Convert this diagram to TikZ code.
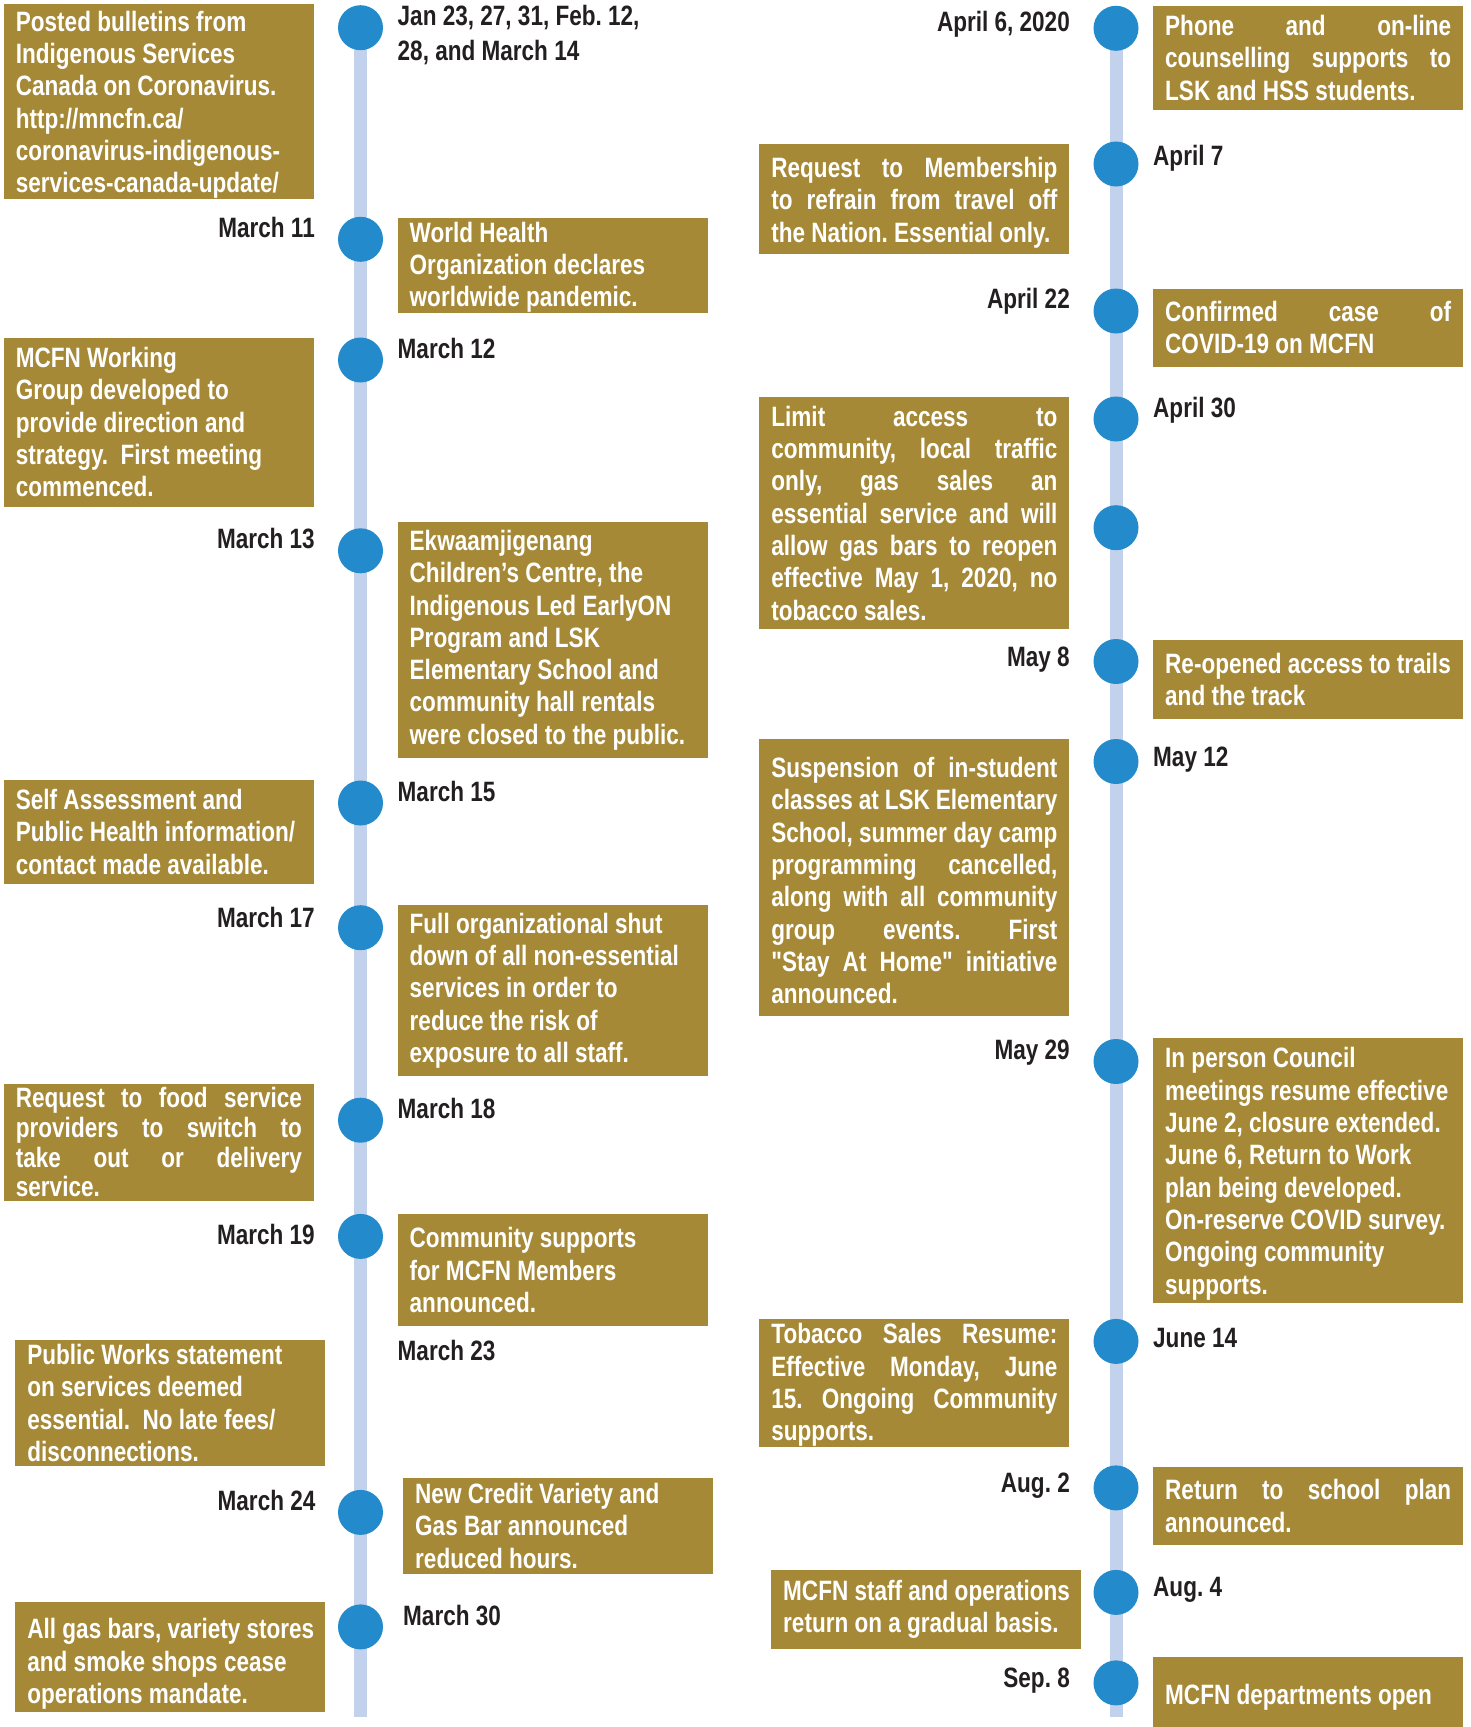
\documentclass[tikz,border=0pt]{standalone}
\usepackage{fontspec}
\newfontfamily\cond{Liberation Sans}[FakeStretch=0.805]
\definecolor{gold}{HTML}{A68937}
\definecolor{dotblue}{HTML}{238BCB}
\definecolor{lineblue}{HTML}{C2D2EC}
\definecolor{ink}{HTML}{231F20}
\newlength\twid \setlength\twid{286pt}
\newcommand\jline[1]{\makebox[\twid][s]{\spaceskip=0pt\xspaceskip=0pt\relax #1}}
\newcommand\ml[1]{\mbox{\spaceskip=0pt\xspaceskip=0pt\relax #1}}
\newcommand\topstrut[1]{\rule{0pt}{#1}}
\tikzset{
  evbox/.style={fill=gold, text=white, anchor=north west, inner xsep=12pt, inner ysep=0pt,
    text width=\twid, align=left, minimum width=310pt,
    font=\cond\bfseries\fontsize{28}{32.3}\selectfont},
  datelbl/.style={text=ink, inner sep=0pt, font=\cond\bfseries\fontsize{28}{35}\selectfont},
  dot/.style={circle, fill=dotblue, minimum size=45pt, inner sep=0pt},
  tline/.style={line width=13pt, lineblue},
}
\begin{document}
\frenchspacing
\begin{tikzpicture}[x=1pt,y=-1pt]
\useasboundingbox (0,0) rectangle (1471,1727);
% timelines
\coordinate (ltop) at (360.5,27.7);
\coordinate (lbot) at (360.5,1717);
\coordinate (rtop) at (1116,28.3);
\coordinate (rbot) at (1116,1717);
\draw[tline] (ltop) -- (lbot);
\draw[tline] (rtop) -- (rbot);
% left circles
\node[dot] (l1) at (360.5,27.7) {};
\node[dot] (l2) at (360.5,239.3) {};
\node[dot] (l3) at (360.5,360) {};
\node[dot] (l4) at (360.5,550.8) {};
\node[dot] (l5) at (360.5,803) {};
\node[dot] (l6) at (360.5,927.7) {};
\node[dot] (l7) at (360.5,1120.2) {};
\node[dot] (l8) at (360.5,1236.4) {};
\node[dot] (l9) at (360.5,1512.4) {};
\node[dot] (l10) at (360.5,1626.9) {};
% right circles
\node[dot] (r1) at (1116,28.3) {};
\node[dot] (r2) at (1116,164) {};
\node[dot] (r3) at (1116,311) {};
\node[dot] (r4) at (1116,419) {};
\node[dot] (r5) at (1116,527.7) {};
\node[dot] (r6) at (1116,661.5) {};
\node[dot] (r7) at (1116,761.5) {};
\node[dot] (r8) at (1116,1061.5) {};
\node[dot] (r9) at (1116,1341.4) {};
\node[dot] (r10) at (1116,1487.9) {};
\node[dot] (r11) at (1116,1592.4) {};
\node[dot] (r12) at (1116,1682.9) {};
% left dates
\node[datelbl, anchor=north west, align=left] (d1) at (397.5,5) {\ml{Jan 23, 27, 31, Feb. 12,}\\\ml{28, and March 14}};
\node[datelbl, anchor=base east] (d2) at (315,237.7) {March 11};
\node[datelbl, anchor=base west] (d3) at (397.5,358.3) {March 12};
\node[datelbl, anchor=base east] (d4) at (315,548.8) {March 13};
\node[datelbl, anchor=base west] (d5) at (397.5,801) {March 15};
\node[datelbl, anchor=base east] (d6) at (315,927) {March 17};
\node[datelbl, anchor=base west] (d7) at (397.5,1118.2) {March 18};
\node[datelbl, anchor=base east] (d8) at (315,1244.7) {March 19};
\node[datelbl, anchor=base west] (d9) at (397.5,1360) {March 23};
\node[datelbl, anchor=base east] (d10) at (315.6,1510.3) {March 24};
\node[datelbl, anchor=base west] (d11) at (403,1625.6) {March 30};
% right dates
\node[datelbl, anchor=base east] (e1) at (1070,31.7) {April 6, 2020};
\node[datelbl, anchor=base west] (e2) at (1153,165) {April 7};
\node[datelbl, anchor=base east] (e3) at (1070,308.3) {April 22};
\node[datelbl, anchor=base west] (e4) at (1153,417.3) {April 30};
\node[datelbl, anchor=base east] (e5) at (1070,666) {May 8};
\node[datelbl, anchor=base west] (e6) at (1153,766) {May 12};
\node[datelbl, anchor=base east] (e7) at (1070,1059.6) {May 29};
\node[datelbl, anchor=base west] (e8) at (1153,1347.6) {June 14};
\node[datelbl, anchor=base east] (e9) at (1070,1492.9) {Aug. 2};
\node[datelbl, anchor=base west] (e10) at (1153,1596.6) {Aug. 4};
\node[datelbl, anchor=base east] (e11) at (1070,1687.9) {Sep. 8};
% left column boxes
\node[evbox, minimum height=195pt] (b1) at (3.7,4) {\topstrut{26.4pt}\ml{Posted bulletins from}\\\ml{Indigenous Services}\\\ml{Canada on Coronavirus.}\\\ml{http://mncfn.ca/}\\\ml{coronavirus-indigenous-}\\\ml{services-canada-update/}};
\node[evbox, minimum height=95.4pt] (b2) at (397.5,217.3) {\topstrut{24.4pt}\ml{World Health}\\\ml{Organization declares}\\\ml{worldwide pandemic.}};
\node[evbox, minimum height=169.4pt] (b3) at (3.7,337.3) {\ml{MCFN Working}\\\ml{Group developed to}\\\ml{provide direction and}\\\ml{strategy.\ \ First meeting}\\\ml{commenced.}};
\node[evbox, minimum height=236.1pt] (b4) at (397.5,521.9) {\ml{Ekwaamjigenang}\\\ml{Children’s Centre, the}\\\ml{Indigenous Led EarlyON}\\\ml{Program and LSK}\\\ml{Elementary School and}\\\ml{community hall rentals}\\\ml{were closed to the public.}};
\node[evbox, minimum height=103.9pt] (b5) at (3.7,779.6) {\ml{Self Assessment and}\\\ml{Public Health information/}\\\ml{contact made available.}};
\node[evbox, minimum height=170.8pt] (b6) at (397.5,905) {\ml{Full organizational shut}\\\ml{down of all non-essential}\\\ml{services in order to}\\\ml{reduce the risk of}\\\ml{exposure to all staff.}};
\node[evbox, minimum height=116.5pt, font=\cond\bfseries\fontsize{28}{29.7}\selectfont] (b7) at (3.7,1083.8) {\jline{Request to food service}\\\jline{providers to switch to}\\\jline{take out or delivery}\\\ml{service.}};
\node[evbox, minimum height=111.6pt] (b8) at (397.5,1214) {\ml{Community supports}\\\ml{for MCFN Members}\\\ml{announced.}};
\node[evbox, minimum height=126.2pt] (b9) at (15.2,1339.7) {\ml{Public Works statement}\\\ml{on services deemed}\\\ml{essential.\ \ No late fees/}\\\ml{disconnections.}};
\node[evbox, minimum height=96.3pt] (b10) at (403,1477.5) {\ml{New Credit Variety and}\\\ml{Gas Bar announced}\\\ml{reduced hours.}};
\node[evbox, minimum height=110.5pt] (b11) at (15.2,1601.5) {\topstrut{34pt}\ml{All gas bars, variety stores}\\\ml{and smoke shops cease}\\\ml{operations mandate.}};
% right column boxes
\node[evbox, minimum height=103.3pt] (s1) at (1153,6) {\jline{Phone and on-line}\\\jline{counselling supports to}\\\ml{LSK and HSS students.}};
\node[evbox, minimum height=110.7pt] (s2) at (759.2,143.3) {\topstrut{28pt}\jline{Request to Membership}\\\jline{to refrain from travel off}\\\ml{the Nation. Essential only.}};
\node[evbox, minimum height=78.4pt] (s3) at (1153,288.3) {\jline{Confirmed case of}\\\ml{COVID-19 on MCFN}};
\node[evbox, minimum height=232.5pt] (s4) at (759.2,396.7) {\jline{Limit access to}\\\jline{community, local traffic}\\\jline{only, gas sales an}\\\jline{essential service and will}\\\jline{allow gas bars to reopen}\\\jline{effective May 1, 2020, no}\\\ml{tobacco sales.}};
\node[evbox, minimum height=79.2pt] (s5) at (1153,640) {\ml{Re-opened access to trails}\\\ml{and the track}};
\node[evbox, minimum height=277.7pt] (s6) at (759.2,738.5) {\topstrut{26.4pt}\jline{Suspension of in-student}\\\jline{classes at LSK Elementary}\\\jline{School, summer day camp}\\\jline{programming cancelled,}\\\jline{along with all community}\\\jline{group events. First}\\\jline{"Stay At Home" initiative}\\\ml{announced.}};
\node[evbox, minimum height=265.5pt] (s7) at (1153,1037.7) {\topstrut{26.4pt}\ml{In person Council}\\\ml{meetings resume effective}\\\ml{June 2, closure extended.}\\\ml{June 6, Return to Work}\\\ml{plan being developed.}\\\ml{On-reserve COVID survey.}\\\ml{Ongoing community}\\\ml{supports.}};
\node[evbox, minimum height=128.6pt] (s8) at (759.2,1318.6) {\topstrut{24.4pt}\jline{Tobacco Sales Resume:}\\\jline{Effective Monday, June}\\\jline{15. Ongoing Community}\\\ml{supports.}};
\node[evbox, minimum height=78pt] (s9) at (1153,1466.7) {\jline{Return to school plan}\\\ml{announced.}};
\node[evbox, minimum height=78.9pt] (s10) at (771,1569.6) {\ml{MCFN staff and operations}\\\ml{return on a gradual basis.}};
\node[evbox, minimum height=80pt] (s11) at (1153,1656.8) {\ml{MCFN departments open}};
\end{tikzpicture}
\end{document}
